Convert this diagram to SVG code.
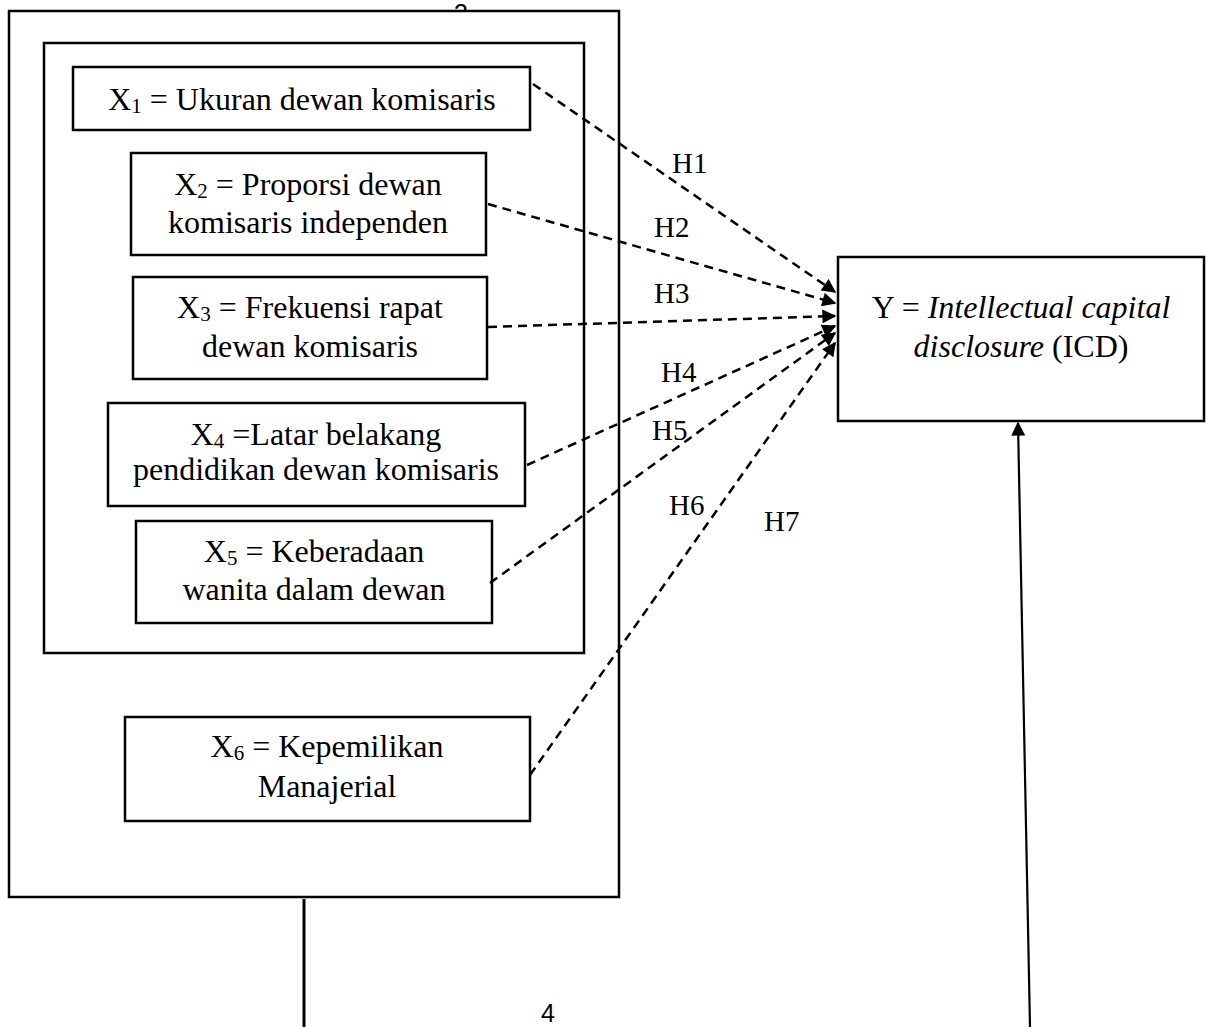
<svg xmlns="http://www.w3.org/2000/svg" width="1208" height="1027" viewBox="0 0 1208 1027">
<style>
.box{fill:none;stroke:#000;stroke-width:2.5}
.t{font-family:"Liberation Serif","Times New Roman",serif;font-size:32px;fill:#000;text-anchor:middle}
.lbl{font-family:"Liberation Serif","Times New Roman",serif;font-size:29px;fill:#000}
.dash{fill:none;stroke:#000;stroke-width:2.5;stroke-dasharray:9 6;marker-end:url(#ah)}
.solid{fill:none;stroke:#000}
.sub{font-size:21px}
.pg{font-family:"Liberation Sans",Arial,sans-serif;font-size:25px;fill:#000;text-anchor:middle}
</style>
<defs>
<marker id="ah" viewBox="0 0 10 10" refX="9" refY="5" markerWidth="16" markerHeight="14" markerUnits="userSpaceOnUse" orient="auto">
<path d="M0,0 L10,5 L0,10 z" fill="#000"/>
</marker>
<clipPath id="topclip"><rect x="0" y="0" width="1208" height="10"/></clipPath>
</defs>
<rect width="1208" height="1027" fill="#fff"/>
<text class="pg" x="461" y="22" clip-path="url(#topclip)">3</text>
<g id="outer"><rect class="box" x="9" y="11" width="610" height="886"/></g>
<g id="inner"><rect class="box" x="44" y="43" width="540" height="610"/></g>
<g id="x1"><rect class="box" x="73" y="67" width="457" height="63"/>
<text class="t" x="302" y="110">X<tspan class="sub" dy="3">1</tspan><tspan dy="-3"> = Ukuran dewan komisaris</tspan></text></g>
<g id="x2"><rect class="box" x="131" y="153" width="355" height="102"/>
<text class="t" x="308" y="195">X<tspan class="sub" dy="3">2</tspan><tspan dy="-3"> = Proporsi dewan</tspan></text>
<text class="t" x="308" y="233">komisaris independen</text></g>
<g id="x3"><rect class="box" x="133" y="277" width="354" height="102"/>
<text class="t" x="310" y="318">X<tspan class="sub" dy="3">3</tspan><tspan dy="-3"> = Frekuensi rapat</tspan></text>
<text class="t" x="310" y="357">dewan komisaris</text></g>
<g id="x4"><rect class="box" x="108" y="403" width="417" height="103"/>
<text class="t" x="316" y="445">X<tspan class="sub" dy="3">4</tspan><tspan dy="-3"> =Latar belakang</tspan></text>
<text class="t" x="316" y="480">pendidikan dewan komisaris</text></g>
<g id="x5"><rect class="box" x="136" y="521" width="356" height="102"/>
<text class="t" x="314" y="562">X<tspan class="sub" dy="3">5</tspan><tspan dy="-3"> = Keberadaan</tspan></text>
<text class="t" x="314" y="600">wanita dalam dewan</text></g>
<g id="x6"><rect class="box" x="125" y="717" width="405" height="104"/>
<text class="t" x="327" y="757">X<tspan class="sub" dy="3">6</tspan><tspan dy="-3"> = Kepemilikan</tspan></text>
<text class="t" x="327" y="797">Manajerial</text></g>
<g id="y"><rect class="box" x="838" y="257" width="366" height="164"/>
<text class="t" x="1021" y="318">Y = <tspan font-style="italic">Intellectual capital</tspan></text>
<text class="t" x="1021" y="357"><tspan font-style="italic">disclosure</tspan> (ICD)</text></g>
<g id="connectors">
<line class="dash" x1="533" y1="84" x2="835" y2="292"/>
<line class="dash" x1="488" y1="204" x2="835" y2="303"/>
<line class="dash" x1="488" y1="327" x2="835" y2="316"/>
<line class="dash" x1="527" y1="465" x2="835" y2="326"/>
<line class="dash" x1="490" y1="583" x2="835" y2="333"/>
<line class="dash" x1="530" y1="775" x2="835" y2="343"/>
<line class="solid" x1="304" y1="899" x2="304" y2="1027" stroke-width="3"/>
<line class="solid" x1="1030" y1="1027" x2="1018" y2="423" stroke-width="2.2" marker-end="url(#ah)"/>
</g>
<g id="labels">
<text class="lbl" x="672" y="173">H1</text>
<text class="lbl" x="654" y="237">H2</text>
<text class="lbl" x="654" y="303">H3</text>
<text class="lbl" x="661" y="382">H4</text>
<text class="lbl" x="652" y="440">H5</text>
<text class="lbl" x="669" y="515">H6</text>
<text class="lbl" x="764" y="531">H7</text>
</g>
<text class="pg" x="548" y="1022">4</text>
</svg>
